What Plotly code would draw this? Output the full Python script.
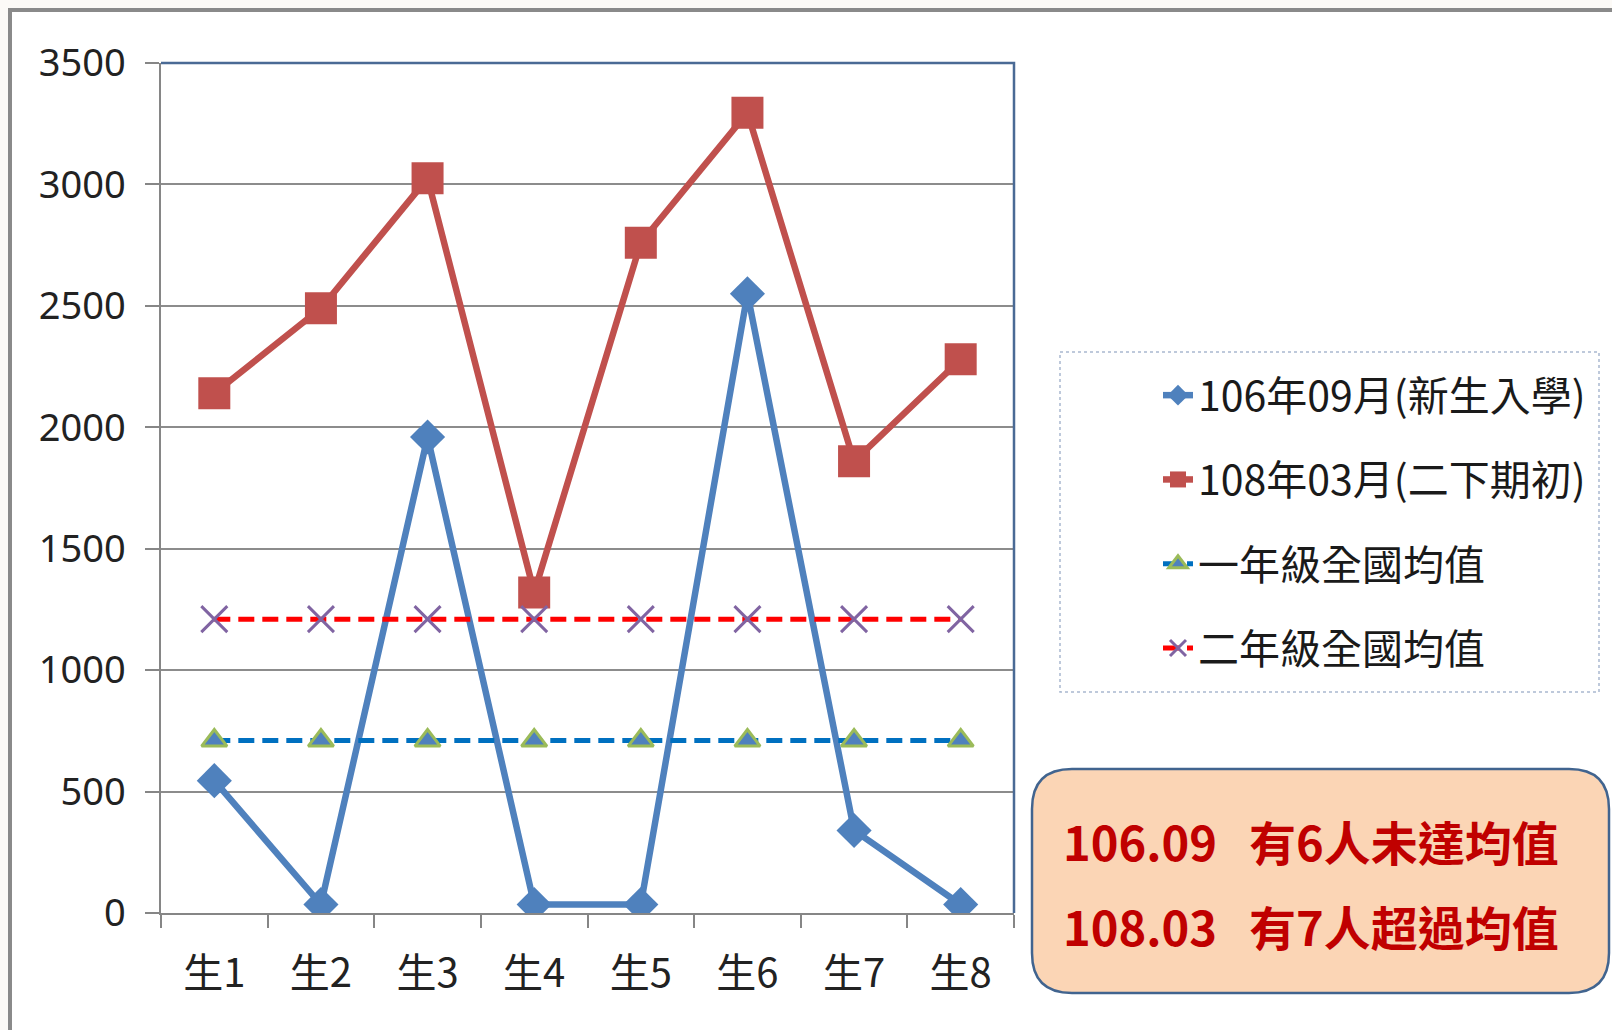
import plotly.graph_objects as go

# ---------------- data ----------------
categories = ["生1", "生2", "生3", "生4", "生5", "生6", "生7", "生8"]
series_names = ["106年09月(新生入學)", "108年03月(二下期初)", "一年級全國均值", "二年級全國均值"]
sep_106 = [545, 35, 1960, 35, 35, 2550, 340, 35]
mar_108 = [2140, 2490, 3025, 1320, 2760, 3295, 1860, 2280]
grade1_avg = [710, 710, 710, 710, 710, 710, 710, 710]
grade2_avg = [1210, 1210, 1210, 1210, 1210, 1210, 1210, 1210]
y_ticks = [0, 500, 1000, 1500, 2000, 2500, 3000, 3500]
note_lines = ["106.09\u00a0\u00a0\u00a0有6人未達均值", "108.03\u00a0\u00a0\u00a0有7人超過均值"]

# ---------------- layout geometry (pixels) ----------------
FIG_W, FIG_H = 1612, 1030
L, R, T, B = 161, 1014, 63, 913


def px(x):
    return (x - L) / (R - L)


def py(y):
    return (B - y) / (B - T)


def rounded_rect(x0, y0, x1, y1, r):
    return (f"M {px(x0 + r)},{py(y0)} L {px(x1 - r)},{py(y0)} "
            f"Q {px(x1)},{py(y0)} {px(x1)},{py(y0 + r)} "
            f"L {px(x1)},{py(y1 - r)} Q {px(x1)},{py(y1)} {px(x1 - r)},{py(y1)} "
            f"L {px(x0 + r)},{py(y1)} Q {px(x0)},{py(y1)} {px(x0)},{py(y1 - r)} "
            f"L {px(x0)},{py(y0 + r)} Q {px(x0)},{py(y0)} {px(x0 + r)},{py(y0)} Z")


CJK = "Noto Sans CJK TC, Noto Sans, sans-serif"

fig = go.Figure()

fig.add_trace(go.Scatter(
    x=categories, y=sep_106, name=series_names[0], legendgroup="a",
    mode="lines+markers",
    line=dict(color="#4F81BD", width=6.5),
    marker=dict(symbol="diamond", size=27, color="#4F81BD"),
))
fig.add_trace(go.Scatter(
    x=categories, y=mar_108, name=series_names[1], legendgroup="b",
    mode="lines+markers",
    line=dict(color="#C0504D", width=6.5),
    marker=dict(symbol="square", size=32, color="#C0504D"),
))
fig.add_trace(go.Scatter(
    x=categories, y=grade1_avg, name=series_names[2], legendgroup="c",
    mode="lines+markers",
    line=dict(color="#0070C0", width=5, dash="16px,8px"),
    marker=dict(symbol="triangle-up", size=22, color="#4F81BD",
                line=dict(color="#9BBB59", width=3)),
))
fig.add_trace(go.Scatter(
    x=categories, y=grade2_avg, name=series_names[3], legendgroup="d",
    mode="lines+markers",
    line=dict(color="#FF0000", width=5, dash="16px,8px"),
    marker=dict(symbol="x-thin", size=26, color="#8064A2",
                line=dict(color="#8064A2", width=3)),
))

shapes = [
    # outer slide frame (top / left edges visible)
    dict(type="rect", xref="paper", yref="paper", layer="below",
         x0=px(10), y0=py(10), x1=px(1660), y1=py(1080),
         fillcolor="white", line=dict(color="#8A8A8A", width=4)),
    # plot area border (top & right, dark blue)
    dict(type="path", xref="paper", yref="paper", layer="above",
         path=f"M {px(L)},{py(T)} L {px(R)},{py(T)} L {px(R)},{py(B)}",
         line=dict(color="#4A6A95", width=2.5)),
    # legend dotted border
    dict(type="rect", xref="paper", yref="paper", layer="below",
         x0=px(1060), y0=py(352), x1=px(1599), y1=py(692),
         fillcolor="rgba(0,0,0,0)", line=dict(color="#A9B8CF", width=1.5, dash="dot")),
    # note box
    dict(type="path", xref="paper", yref="paper", layer="above",
         path=rounded_rect(1032, 769, 1609, 993, 40),
         fillcolor="#FBD5B5", line=dict(color="#41648F", width=2.5)),
]

annotations = []
for text, yc in zip(note_lines, [840, 925]):
    annotations.append(dict(
        xref="paper", yref="paper", x=px(1061), y=py(yc),
        xanchor="left", yanchor="middle", showarrow=False,
        text=f"<b>{text}</b>",
        font=dict(family=CJK, size=47, color="#C00000"),
    ))

fig.update_layout(
    width=FIG_W, height=FIG_H,
    margin=dict(l=L, r=FIG_W - R, t=T, b=FIG_H - B, pad=0),
    paper_bgcolor="#FCFAF7",
    plot_bgcolor="rgba(0,0,0,0)",
    showlegend=True,
    legend=dict(
        x=px(1158), y=py(362), xanchor="left", yanchor="top",
        bgcolor="rgba(0,0,0,0)", borderwidth=0,
        font=dict(family=CJK, size=41, color="#1A1A1A"),
        tracegroupgap=28, traceorder="grouped",
    ),
    xaxis=dict(
        type="category", categoryorder="array", categoryarray=categories,
        range=[-0.5, len(categories) - 0.5],
        showgrid=False, showline=True, linecolor="#868686", linewidth=1.5,
        ticks="outside", tickson="boundaries", ticklen=13, tickwidth=1.5,
        tickcolor="#868686", ticklabelstandoff=24,
        tickfont=dict(family=CJK, size=40, color="#222222"),
        zeroline=False,
    ),
    yaxis=dict(
        range=[0, 3500], tickvals=y_ticks,
        showgrid=True, gridcolor="#8C8C8C", gridwidth=1.5,
        showline=True, linecolor="#868686", linewidth=1.5,
        ticks="outside", ticklen=14, tickwidth=1.5, tickcolor="#868686",
        ticklabelstandoff=12,
        tickfont=dict(family="Noto Sans, sans-serif", size=38, color="#222222"),
        zeroline=False,
    ),
    shapes=shapes,
    annotations=annotations,
)

fig.write_html(
    "out.html",
    config={"displayModeBar": False},
    post_script="document.body.style.margin='0';document.body.style.overflow='hidden';",
)
